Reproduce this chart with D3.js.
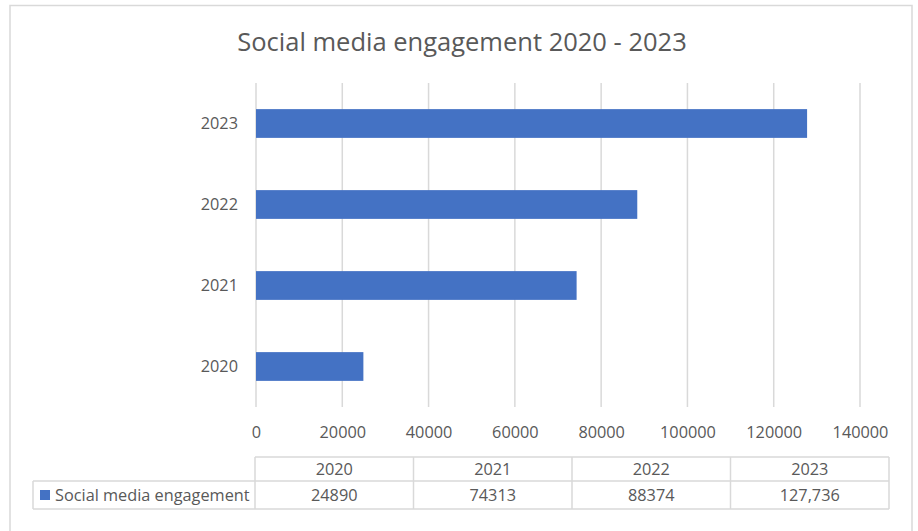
<!DOCTYPE html>
<html>
<head>
<meta charset="utf-8">
<script src="https://cdn.jsdelivr.net/npm/d3@7"></script>
<style>
  html, body { margin: 0; padding: 0; background: #fff; }
  svg { display: block; }
  text { font-family: "Open Sans", "Liberation Sans", sans-serif; fill: #595959; }
</style>
</head>
<body>
<svg id="chart" width="918" height="531"></svg>
<script>
const title = "Social media engagement 2020 - 2023";
const seriesName = "Social media engagement";
const categories = ["2020", "2021", "2022", "2023"];
const values = [24890, 74313, 88374, 127736];
const tableLabels = ["24890", "74313", "88374", "127,736"];
const xTicks = [0, 20000, 40000, 60000, 80000, 100000, 120000, 140000];

const svg = d3.select("#chart");
const grid = "#d9d9d9";
const barColor = "#4472c4";
const fs = "16.3px";

// outer frame
svg.append("rect").attr("x", 10).attr("y", 5.5).attr("width", 902).attr("height", 540)
  .attr("fill", "none").attr("stroke", grid).attr("stroke-width", 1.5);

svg.append("text").attr("x", 462).attr("y", 42).attr("dy", "0.35em").attr("text-anchor", "middle")
  .style("font-size", "25.5px").text(title);

const plot = { left: 256, right: 860, top: 83, bottom: 407 };

const x = d3.scaleLinear().domain([0, 140000]).range([plot.left, plot.right]);
const y = d3.scaleBand().domain(categories.slice().reverse()).range([plot.top, plot.bottom]).paddingInner(0.645).paddingOuter(0.3225);

// gridlines
svg.append("g").selectAll("line").data(xTicks).join("line")
  .attr("x1", d => x(d)).attr("x2", d => x(d))
  .attr("y1", plot.top).attr("y2", plot.bottom)
  .attr("stroke", grid).attr("stroke-width", 1.5);

// x axis labels
const xAxis = d3.axisBottom(x).tickValues(xTicks).tickFormat(d3.format("d")).tickSize(0).tickPadding(0);
const gx = svg.append("g").attr("transform", `translate(0, 432)`).call(xAxis);
gx.select(".domain").remove();
gx.selectAll("text").style("font-size", fs).attr("fill", "#595959").attr("y", 0).attr("dy", "0.35em")
  .style("font-family", "'Open Sans', sans-serif");

// y axis labels
const yAxis = d3.axisLeft(y).tickSize(0).tickPadding(0);
const gy = svg.append("g").attr("transform", `translate(${plot.left - 18}, 0)`).call(yAxis);
gy.select(".domain").remove();
gy.selectAll("text").style("font-size", fs).attr("fill", "#595959")
  .style("font-family", "'Open Sans', sans-serif");

// bars
svg.append("g").selectAll("rect").data(categories.map((c, i) => ({ c, v: values[i] }))).join("rect")
  .attr("x", x(0)).attr("y", d => y(d.c))
  .attr("width", d => x(d.v) - x(0)).attr("height", y.bandwidth())
  .attr("fill", barColor);

// data table
const tbl = { left: 255, right: 889, top: 457, mid: 481, bottom: 509, legendLeft: 33 };
const col = d3.scaleBand().domain(categories).range([tbl.left, tbl.right]);
const tg = svg.append("g");
function line(x1, y1, x2, y2) {
  tg.append("line").attr("x1", x1).attr("y1", y1).attr("x2", x2).attr("y2", y2)
    .attr("stroke", grid).attr("stroke-width", 1.5);
}
line(tbl.left, tbl.top, tbl.right, tbl.top);
line(tbl.legendLeft, tbl.mid, tbl.right, tbl.mid);
line(tbl.legendLeft, tbl.bottom, tbl.right, tbl.bottom);
line(tbl.legendLeft, tbl.mid, tbl.legendLeft, tbl.bottom);
categories.forEach(c => line(col(c), tbl.top, col(c), tbl.bottom));
line(tbl.right, tbl.top, tbl.right, tbl.bottom);

tg.selectAll("text.hdr").data(categories).join("text").attr("class", "hdr")
  .attr("x", d => col(d) + col.bandwidth() / 2).attr("y", (tbl.top + tbl.mid) / 2)
  .attr("dy", "0.35em").attr("text-anchor", "middle").style("font-size", fs).text(d => d);
tg.selectAll("text.val").data(categories).join("text").attr("class", "val")
  .attr("x", d => col(d) + col.bandwidth() / 2).attr("y", (tbl.mid + tbl.bottom) / 2)
  .attr("dy", "0.35em").attr("text-anchor", "middle").style("font-size", fs)
  .text((d, i) => tableLabels[i]);

tg.append("rect").attr("x", 40).attr("y", 490).attr("width", 10).attr("height", 10).attr("fill", barColor);
tg.append("text").attr("x", 55).attr("y", (tbl.mid + tbl.bottom) / 2).attr("dy", "0.35em")
  .style("font-size", fs).text(seriesName);
</script>
</body>
</html>
